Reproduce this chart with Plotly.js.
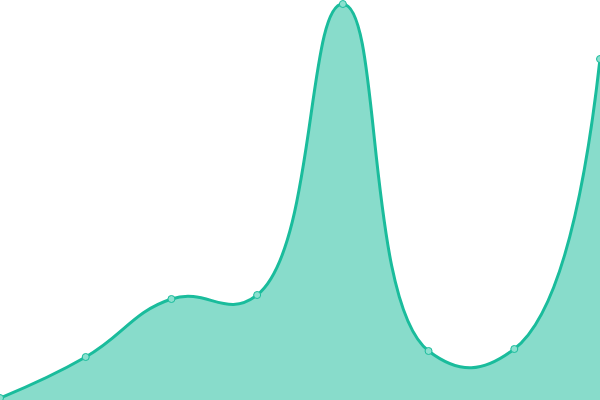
<!DOCTYPE html>
<html>
<head>
<meta charset="utf-8">
<script src="https://cdn.plot.ly/plotly-3.0.1.min.js"></script>
<style>
  html, body { margin: 0; padding: 0; background: #fff; }
  #chart { width: 600px; height: 400px; }
</style>
</head>
<body>
<div id="chart"></div>
<script>
const xIndex = [0, 1, 2, 3, 4, 5, 6, 7];
const values = [2, 43, 101, 105, 396, 49, 51, 341];

const area = {
  type: 'scatter',
  mode: 'lines+markers',
  x: xIndex,
  y: values,
  fill: 'tozeroy',
  fillcolor: 'rgba(26,188,156,0.52)',
  line: { color: '#1abc9c', width: 3, shape: 'spline', smoothing: 1.3 },
  marker: { size: 7, color: '#8be0cf', line: { color: '#1abc9c', width: 1 } },
  hoverinfo: 'y'
};

const layout = {
  width: 600,
  height: 400,
  margin: { l: 0, r: 0, t: 0, b: 0, pad: 0 },
  paper_bgcolor: 'white',
  plot_bgcolor: 'white',
  showlegend: false,
  xaxis: { range: [0, 7], visible: false, fixedrange: true },
  yaxis: { range: [0, 400], visible: false, fixedrange: true }
};

Plotly.newPlot('chart', [area], layout, { displayModeBar: false, staticPlot: true });
</script>
</body>
</html>
